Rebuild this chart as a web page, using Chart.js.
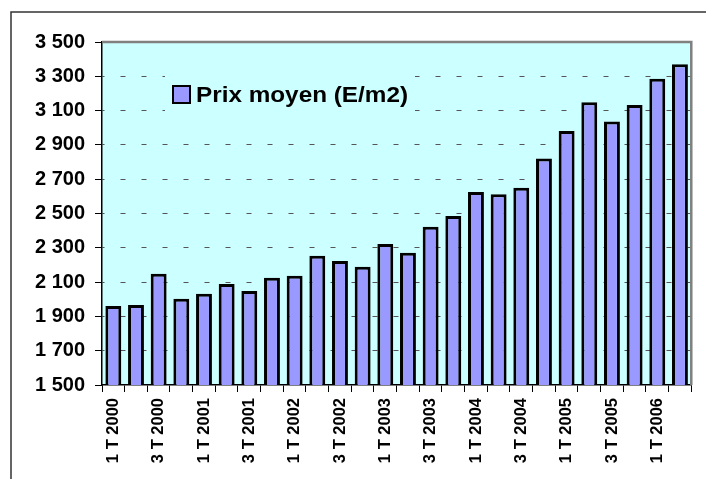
<!DOCTYPE html>
<html>
<head>
<meta charset="utf-8">
<script src="https://cdn.jsdelivr.net/npm/chart.js@4/dist/chart.umd.min.js"></script>
<style>
  html, body { margin: 0; padding: 0; background: #fff; }
  #wrap { width: 706px; height: 479px; }
</style>
</head>
<body>
<div id="wrap"><canvas id="chartPrix" width="706" height="479"></canvas></div>
<script>
/* =========================
  Données
========================= */
const trimestres = [
  "1 T 2000", "2 T 2000", "3 T 2000", "4 T 2000",
  "1 T 2001", "2 T 2001", "3 T 2001", "4 T 2001",
  "1 T 2002", "2 T 2002", "3 T 2002", "4 T 2002",
  "1 T 2003", "2 T 2003", "3 T 2003", "4 T 2003",
  "1 T 2004", "2 T 2004", "3 T 2004", "4 T 2004",
  "1 T 2005", "2 T 2005", "3 T 2005", "4 T 2005",
  "1 T 2006", "2 T 2006"
];
const prixMoyen = [
  1960, 1966, 2149, 2003,
  2032, 2089, 2048, 2126,
  2137, 2254, 2223, 2190,
  2322, 2271, 2423, 2485,
  2625, 2612, 2650, 2820,
  2981, 3148, 3037, 3133,
  3286, 3370
];
const serieLabel = "Prix moyen (E/m2)";
const yMin = 1500;
const yMax = 3500;
const yPas = 200;

const police = "Arial, 'Liberation Sans', sans-serif";

/* =========================
  Helper
========================= */
function formatMilliers(v) {
  return String(v).replace(/\B(?=(\d{3})+(?!\d))/g, " ");
}

/* =========================
  Plugin : cadre, fond, légende
========================= */
const cadre = {
  id: "cadre",
  beforeDraw(chart) {
    const { ctx, chartArea: a } = chart;
    ctx.save();
    ctx.fillStyle = "#fff";
    ctx.fillRect(0, 0, chart.width, chart.height);
    ctx.strokeStyle = "#333";
    ctx.lineWidth = 1.5;
    ctx.beginPath();
    ctx.moveTo(11, chart.height);
    ctx.lineTo(11, 12);
    ctx.lineTo(chart.width, 12);
    ctx.stroke();
    ctx.fillStyle = "#CCFFFF";
    ctx.fillRect(a.left, a.top, a.width, a.height);
    ctx.restore();
  },
  beforeDatasetsDraw(chart) {
    const { ctx, chartArea: a } = chart;
    const x = a.left + 71;
    const y = a.top + 44;
    ctx.save();
    ctx.fillStyle = "#CCFFFF";
    ctx.fillRect(x - 8, y - 16, 250, 48);
    ctx.fillStyle = "#9999FF";
    ctx.strokeStyle = "#000";
    ctx.lineWidth = 2;
    ctx.fillRect(x, y, 17, 17);
    ctx.strokeRect(x, y, 17, 17);
    ctx.fillStyle = "#000";
    ctx.font = "bold 22px " + police;
    ctx.textBaseline = "alphabetic";
    const w = ctx.measureText(serieLabel).width;
    ctx.translate(x + 23, y + 16);
    ctx.scale(212 / w, 1);
    ctx.fillText(serieLabel, 0, 0);
    ctx.restore();
  },
  afterDatasetsDraw(chart) {
    const { ctx, chartArea: a } = chart;
    ctx.save();
    ctx.strokeStyle = "#808080";
    ctx.lineWidth = 2.5;
    ctx.beginPath();
    ctx.moveTo(a.left, a.top);
    ctx.lineTo(a.right, a.top);
    ctx.lineTo(a.right, a.bottom);
    ctx.stroke();
    ctx.restore();
  }
};

/* =========================
  Chart
========================= */
new Chart(document.getElementById("chartPrix"), {
  type: "bar",
  data: {
    labels: trimestres,
    datasets: [{
      label: serieLabel,
      data: prixMoyen,
      backgroundColor: "#9999FF",
      borderColor: "#000",
      borderWidth: 3,
      barPercentage: 0.78,
      categoryPercentage: 0.9
    }]
  },
  options: {
    responsive: false,
    animation: false,
    layout: { padding: { top: 42, right: 13, left: 0, bottom: 0 } },
    plugins: {
      legend: { display: false },
      tooltip: { enabled: false }
    },
    scales: {
      x: {
        offset: true,
        afterFit: s => { s.height = 94; },
        grid: {
          offset: true,
          drawOnChartArea: false,
          tickLength: 7,
          tickColor: "#000",
          tickWidth: 1
        },
        border: { color: "#000", width: 1.5 },
        ticks: {
          autoSkip: false,
          maxRotation: 90,
          minRotation: 90,
          padding: 6,
          color: "#000",
          font: { family: police, size: 16.5, weight: "bold" },
          callback: (v, i) => (i % 2 === 0 ? trimestres[i] : "")
        }
      },
      y: {
        min: yMin,
        max: yMax,
        afterFit: s => { s.width = 102; },
        grid: {
          color: c => (c.tick && (c.tick.value === yMin || c.tick.value === yMax) ? "rgba(0,0,0,0)" : "#555"),
          lineWidth: 1,
          tickLength: 7,
          tickColor: "#000",
          tickWidth: 1,
          tickBorderDash: []
        },
        border: { color: "#000", width: 1.5, dash: [5, 16], dashOffset: 3 },
        ticks: {
          stepSize: yPas,
          padding: 10,
          color: "#000",
          font: { family: police, size: 20, weight: "bold" },
          callback: v => formatMilliers(v)
        }
      }
    }
  },
  plugins: [cadre]
});
</script>
</body>
</html>
